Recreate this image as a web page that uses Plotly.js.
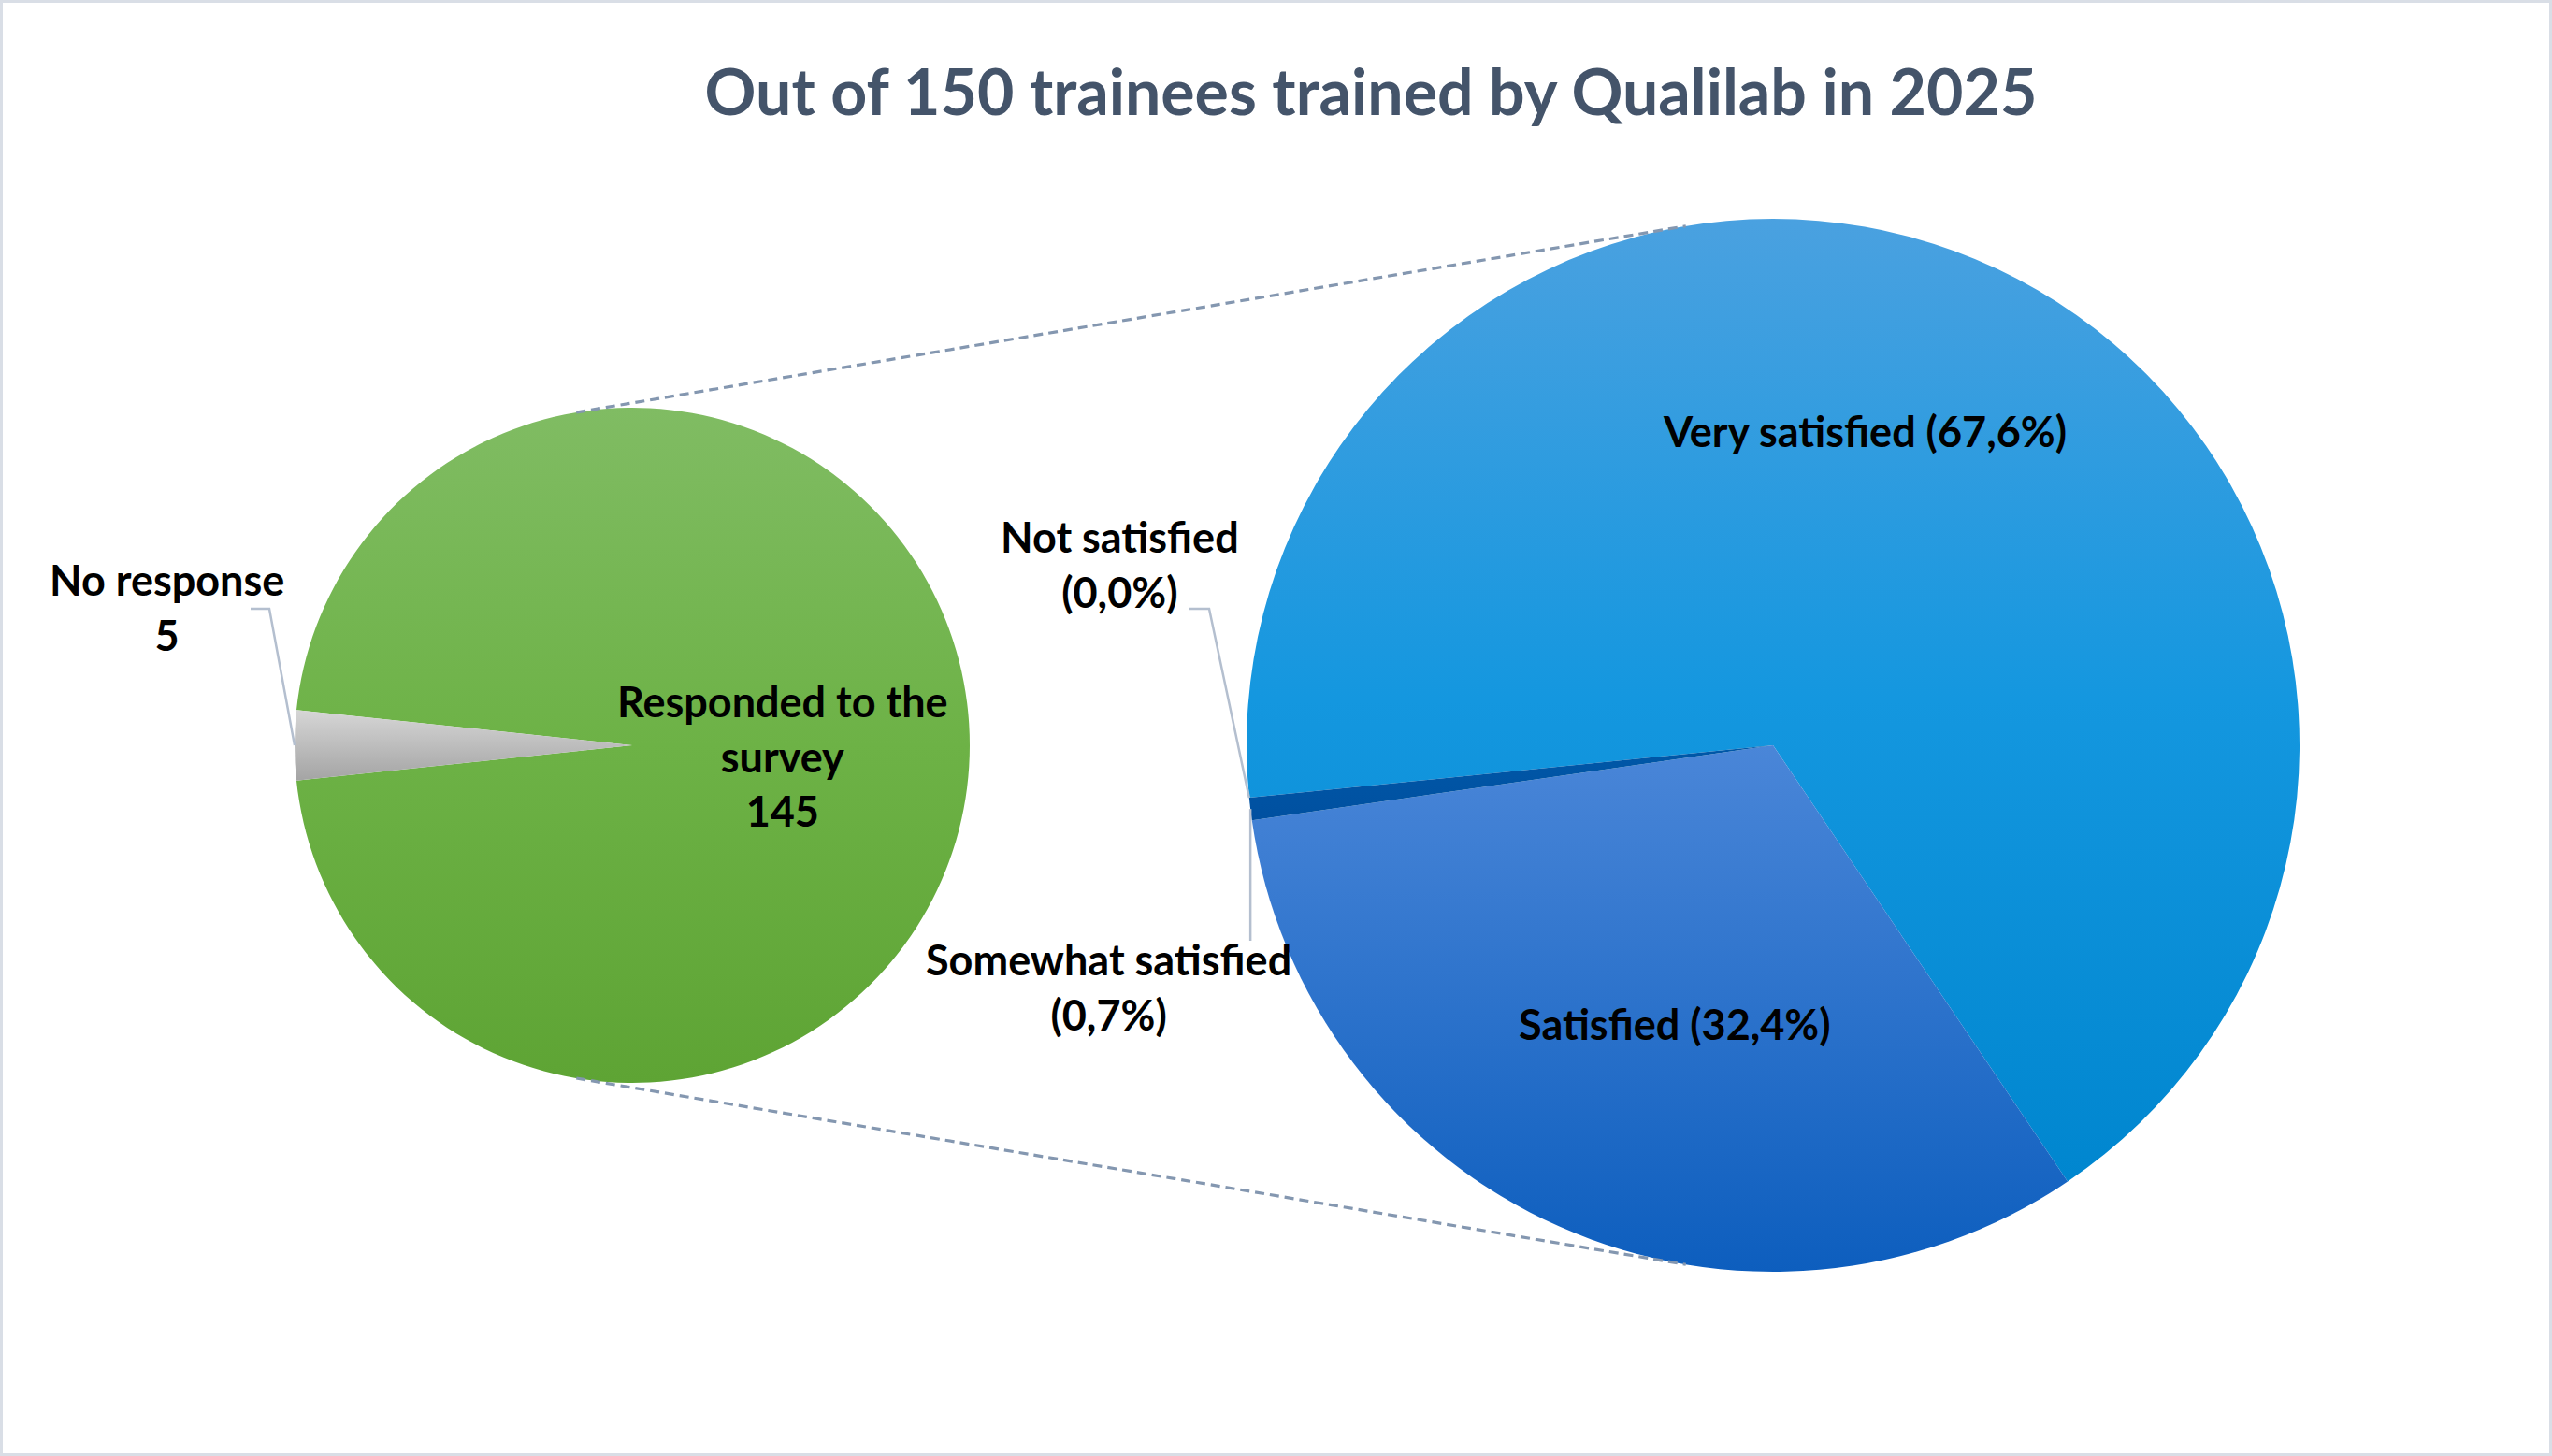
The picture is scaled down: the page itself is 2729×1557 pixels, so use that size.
<!DOCTYPE html>
<html>
<head>
<meta charset="utf-8">
<script src="https://cdn.plot.ly/plotly-3.0.1.min.js"></script>
<style>
  html, body { margin: 0; padding: 0; background: #ffffff; }
  #chart { width: 2729px; height: 1557px; }
</style>
</head>
<body>
<div id="chart"></div>
<script>
// ---------------- DATA ----------------
const titleText = 'Out of 150 trainees trained by Qualilab in 2025';
const overviewLabels = ['Responded to the survey', 'No response'];
const overviewValues = [145, 5];
const satisfactionLabels = ['Very satisfied', 'Satisfied', 'Somewhat satisfied', 'Not satisfied'];
const satisfactionPct = [67.6, 32.4, 0.7, 0.0];

// ---------------- STYLE / GEOMETRY ----------------
const W = 2729, H = 1557;
const leftPie  = { cx: 676,  cy: 797, r: 361, rotation: -84 };
const rightPie = { cx: 1896, cy: 797, r: 563, rotation: -95.7 };
const FONT = 'Lato, "Open Sans", sans-serif';
const LABEL_SIZE = 45;

const leftFlat  = ['#6DB246', '#BDBDBD'];
const rightFlat = ['#1797DF', '#2A72CC', '#0055A4', '#0055A4'];
const leftGrad = [
  [[0, '#80BC63'], [0.5, '#6DB246'], [1, '#5EA434']],
  [[0, '#D6D6D6'], [1, '#A4A4A4']]
];
const rightGrad = [
  [[0, '#4AA1E0'], [0.5, '#1497DF'], [1, '#0086CF']],
  [[0, '#4A86D8'], [1, '#0D5EBE']],
  [[0, '#0058A8'], [1, '#0050A0']],
  [[0, '#0058A8'], [1, '#0050A0']]
];

function domainOf(p) {
  return {
    x: [(p.cx - p.r) / W, (p.cx + p.r) / W],
    y: [1 - (p.cy + p.r) / H, 1 - (p.cy - p.r) / H]
  };
}
const px = x => x / W;
const py = y => 1 - y / H;
function pointAt(p, clockDeg) {
  const a = clockDeg * Math.PI / 180;
  return [p.cx + p.r * Math.sin(a), p.cy - p.r * Math.cos(a)];
}
// clock angle at the cumulative fraction of a pie
function angleAtFrac(p, values, idx, within) {
  const tot = values.reduce((s, v) => s + v, 0);
  let cum = 0;
  for (let i = 0; i < idx; i++) cum += values[i];
  cum += values[idx] * within;
  return p.rotation + 360 * cum / tot;
}
const fmtPct = v => '(' + v.toFixed(1).replace('.', ',') + '%)';

// ---------------- TRACES ----------------
const traces = [
  {
    type: 'pie', labels: overviewLabels, values: overviewValues,
    sort: false, direction: 'clockwise', rotation: leftPie.rotation,
    domain: domainOf(leftPie), textinfo: 'none', hoverinfo: 'none',
    marker: { colors: leftFlat, line: { width: 0 } }, showlegend: false
  },
  {
    type: 'pie', labels: satisfactionLabels, values: satisfactionPct,
    sort: false, direction: 'clockwise', rotation: rightPie.rotation,
    domain: domainOf(rightPie), textinfo: 'none', hoverinfo: 'none',
    marker: { colors: rightFlat, line: { width: 0 } }, showlegend: false
  }
];

// ---------------- CONNECTORS (tangent lines) ----------------
const d = rightPie.cx - leftPie.cx;
const alpha = Math.asin((rightPie.r - leftPie.r) / d) * 180 / Math.PI;
const lt = pointAt(leftPie, -alpha), rt = pointAt(rightPie, -alpha);
const lb = pointAt(leftPie, 180 + alpha), rb = pointAt(rightPie, 180 + alpha);
const dashLine = { color: '#8497B0', width: 3.2, dash: '10px,6px' };
const leaderLine = { color: '#B4BFCF', width: 2.5 };

// leader end points on pie edges
const noRespEdge = pointAt(leftPie, angleAtFrac(leftPie, overviewValues, 1, 0.5));
const notSatEdge = pointAt(rightPie, angleAtFrac(rightPie, satisfactionPct, 3, 0.5));
const somewhatEdge = pointAt(rightPie, angleAtFrac(rightPie, satisfactionPct, 2, 0.5));

function pathOf(pts) {
  return pts.map((p, i) => (i ? 'L' : 'M') + px(p[0]) + ',' + py(p[1])).join(' ');
}

const shapes = [
  { type: 'rect', xref: 'paper', yref: 'paper', x0: px(1.5), x1: px(W - 1.5), y0: py(H - 1.5), y1: py(1.5),
    line: { color: '#D9DEE6', width: 3 }, fillcolor: 'rgba(0,0,0,0)', layer: 'below' },
  { type: 'line', xref: 'paper', yref: 'paper', x0: px(lt[0]), y0: py(lt[1]), x1: px(rt[0]), y1: py(rt[1]), line: dashLine },
  { type: 'line', xref: 'paper', yref: 'paper', x0: px(lb[0]), y0: py(lb[1]), x1: px(rb[0]), y1: py(rb[1]), line: dashLine },
  { type: 'path', xref: 'paper', yref: 'paper', path: pathOf([[268, 651], [288, 651], noRespEdge]), line: leaderLine },
  { type: 'path', xref: 'paper', yref: 'paper', path: pathOf([[1272, 651], [1293, 651], notSatEdge]), line: leaderLine },
  { type: 'path', xref: 'paper', yref: 'paper', path: pathOf([somewhatEdge, [somewhatEdge[0], 1006]]), line: leaderLine }
];

// ---------------- LABELS ----------------
function ann(text, x, y) {
  return { text: '<b>' + text + '</b>', x: px(x), y: py(y), xref: 'paper', yref: 'paper',
    showarrow: false, xanchor: 'center', yanchor: 'middle', align: 'center',
    font: { family: FONT, size: LABEL_SIZE, color: '#000000' } };
}
const annotations = [
  ann(overviewLabels[1] + '<br>' + overviewValues[1], 178, 650),
  ann(overviewLabels[0].replace(' survey', '<br>survey') + '<br>' + overviewValues[0], 837, 808),
  ann(satisfactionLabels[3] + '<br>' + fmtPct(satisfactionPct[3]), 1197, 603),
  ann(satisfactionLabels[0] + ' ' + fmtPct(satisfactionPct[0]), 1994, 461),
  ann(satisfactionLabels[2] + '<br>' + fmtPct(satisfactionPct[2]), 1185, 1055),
  ann(satisfactionLabels[1] + ' ' + fmtPct(satisfactionPct[1]), 1791, 1095)
];

const layout = {
  width: W, height: H,
  margin: { l: 0, r: 0, t: 0, b: 0 },
  paper_bgcolor: '#ffffff',
  showlegend: false,
  title: {
    text: '<b>' + titleText + '</b>',
    x: 1466 / W, xanchor: 'center', xref: 'paper',
    y: 1 - 99 / H, yanchor: 'middle', yref: 'container',
    font: { family: FONT, size: 68, color: '#44546A' }
  },
  shapes: shapes,
  annotations: annotations
};

Plotly.newPlot('chart', traces, layout, { staticPlot: true, displayModeBar: false }).then(gd => {
  const ns = 'http://www.w3.org/2000/svg';
  const svg = gd.querySelector('svg.main-svg');
  let defs = svg.querySelector('defs');
  if (!defs) { defs = document.createElementNS(ns, 'defs'); svg.insertBefore(defs, svg.firstChild); }
  function addGrad(id, stops) {
    const g = document.createElementNS(ns, 'linearGradient');
    g.setAttribute('id', id);
    g.setAttribute('x1', '0'); g.setAttribute('y1', '0');
    g.setAttribute('x2', '0'); g.setAttribute('y2', '1');
    stops.forEach(s => {
      const st = document.createElementNS(ns, 'stop');
      st.setAttribute('offset', s[0]);
      st.setAttribute('stop-color', s[1]);
      g.appendChild(st);
    });
    defs.appendChild(g);
  }
  const grads = [leftGrad, rightGrad];
  grads.forEach((list, ti) => list.forEach((st, i) => addGrad('pg' + ti + '_' + i, st)));
  gd.querySelectorAll('.pielayer .trace').forEach((tr, ti) => {
    tr.querySelectorAll('g.slice').forEach((g, k) => {
      const dd = g.__data__;
      const idx = (dd && dd.i !== undefined) ? dd.i : k;
      const path = g.querySelector('path.surface');
      if (path) path.style.fill = 'url(#pg' + ti + '_' + idx + ')';
    });
  });
});
</script>
</body>
</html>
